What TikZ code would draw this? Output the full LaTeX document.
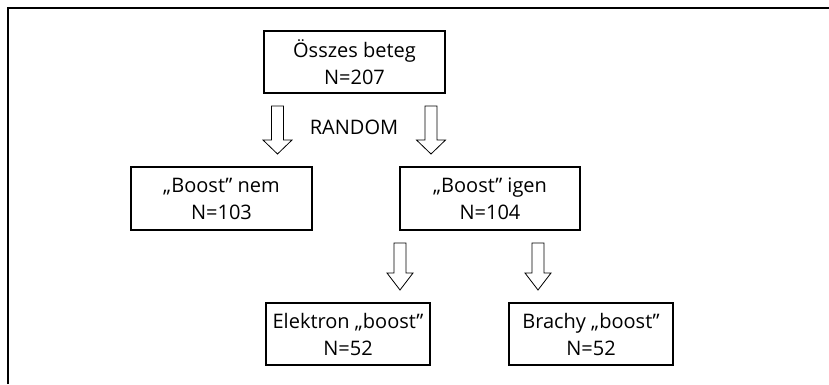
\documentclass[tikz,border=0pt]{standalone}
\usepackage{fontspec}
\setmainfont{Open Sans}
\begin{document}
\begin{tikzpicture}[x=1pt,y=-1pt,
  box/.style={draw,line width=1.2pt,inner sep=0pt,align=center,font=\fontsize{20}{27}\selectfont},
  arr/.style={draw,line width=0.8pt,line join=miter}]
\useasboundingbox (0,0) rectangle (829,384);
\draw[line width=2pt] (8,384) -- (8,8) -- (829,8);
% boxes
\node[box,minimum width=181,minimum height=62] (top) at (354.5,62) {Összes beteg\\N=207};
\node[box,minimum width=181,minimum height=63] (nem) at (221.5,198.5) {„Boost” nem\\N=103};
\node[box,minimum width=180,minimum height=63] (igen) at (490,198.5) {„Boost” igen\\N=104};
\node[box,minimum width=164,minimum height=62] (el) at (348,334) {Elektron „boost”\\N=52};
\node[box,minimum width=164,minimum height=62] (br) at (591,334) {Brachy „boost”\\N=52};
\node[font=\fontsize{20}{24}\selectfont,inner sep=0pt] (rnd) at (354,127) {RANDOM};
% hollow arrows
\newcommand{\harrow}[5]{% x center, y top, y headstart, y tip, half head width
  \draw[arr] ({#1-6},#2) -- ({#1+6},#2) -- ({#1+6},#3) -- ({#1+#5},#3) -- (#1,#4) -- ({#1-#5},#3) -- ({#1-6},#3) -- cycle;}
\harrow{277.5}{106}{140}{154}{14.5}
\harrow{431}{106}{140}{154}{14.5}
\harrow{400}{243}{273}{290}{13}
\harrow{538}{243}{273}{290}{13}
\end{tikzpicture}
\end{document}
